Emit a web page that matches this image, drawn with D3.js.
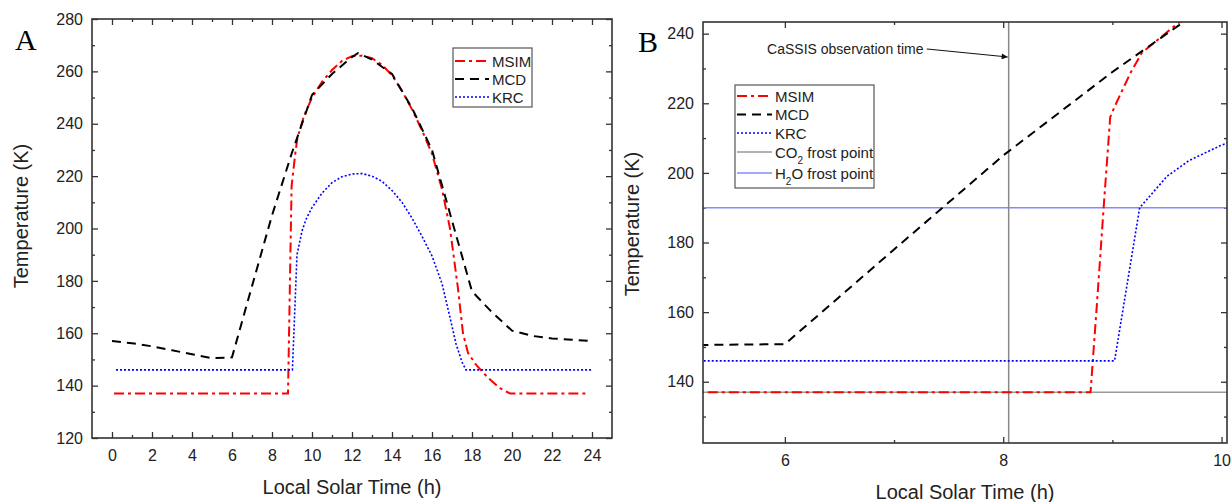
<!DOCTYPE html>
<html>
<head>
<meta charset="utf-8">
<script src="https://cdn.jsdelivr.net/npm/d3@7"></script>
<style>
  body { margin: 0; background: #fff; }
  svg { display: block; font-family: "Liberation Sans", Arial, sans-serif; }
</style>
</head>
<body>
<svg id="chart" width="1232" height="502"></svg>
<script>
// ---- data ----
const msimHours = [0.1, 2, 4, 6, 8, 8.8, 8.86, 8.92, 8.98, 9.02, 9.17, 9.27, 9.6, 10, 10.5, 11, 11.5, 12, 12.5, 13, 13.5, 14, 14.5, 15, 15.5, 16, 16.5, 16.9, 17.3, 17.55, 17.8, 18.2, 18.8, 19.4, 19.9, 22, 23.8];
const msimTemps = [137, 137, 137, 137, 137, 137, 163, 190, 216, 219, 229, 234.5, 243, 250, 256, 260.5, 264, 265.8, 266, 265, 262.5, 258.5, 252.5, 245.5, 237.5, 228.5, 215, 200, 177, 160, 152.5, 148, 143, 139, 137, 137, 137];

const mcdHours = [0, 1, 2, 3, 4, 5, 6, 7, 8, 9, 10, 11, 12, 12.3, 13, 14, 15, 16, 17, 18, 19, 20, 21, 22, 23, 24];
const mcdTemps = [157, 156.2, 155, 153.5, 152, 150.5, 150.8, 178, 205, 229, 251, 259, 265.5, 267, 264.5, 259, 246, 230, 203, 176, 168, 161, 159, 158, 157.5, 157];

const krcHours = [0.2, 4, 8, 9.02, 9.25, 9.5, 9.7, 10, 10.5, 11, 11.5, 12, 12.5, 13, 13.5, 14, 14.5, 15, 15.5, 16, 16.5, 16.9, 17.2, 17.5, 17.7, 20, 24];
const krcTemps = [146, 146, 146, 146, 190, 199, 203.5, 208, 213.5, 217.5, 219.8, 220.8, 221, 220, 218, 214.5, 210, 204, 197, 189.5, 179, 166, 156, 149, 146, 146, 146];

const co2Frost = 137;      // K
const h2oFrost = 190;      // K
const obsTime = 8.05;      // h, CaSSIS observation
const obsLabel = 'CaSSIS observation time';

const xTicksA = d3.range(0, 25, 2);
const xMinorA = d3.range(1, 25, 2);
const yTicksA = d3.range(120, 281, 20);
const yMinorA = d3.range(130, 280, 20);
const xTicksB = [6, 8, 10];
const xMinorB = [7, 9];
const yTicksB = [140, 160, 180, 200, 220, 240];
const yMinorB = [130, 150, 170, 190, 210, 230];

// ---- styles ----
const styles = {
  MSIM: { color: '#ff0000', width: 2, dash: '10,4,3,4' },
  MCD:  { color: '#000000', width: 2, dash: '9,6' },
  KRC:  { color: '#0000ff', width: 1.6, dash: '2,2' },
  CO2:  { color: '#9a9a9a', width: 1.5, dash: null },
  H2O:  { color: '#8888ff', width: 1.5, dash: null }
};

const zip = (xs, ys) => xs.map((h, i) => [h, ys[i]]);
const series = [
  { key: 'MSIM', pts: zip(msimHours, msimTemps) },
  { key: 'MCD',  pts: zip(mcdHours, mcdTemps) },
  { key: 'KRC',  pts: zip(krcHours, krcTemps) }
];

const svg = d3.select('#chart');
const ink = '#222';
const fmt = d3.format('d');

function drawPanel(o) {
  const x = d3.scaleLinear().domain(o.xDomain).range([o.left, o.right]);
  const y = d3.scaleLinear().domain(o.yDomain).range([o.bottom, o.top]);
  const g = svg.append('g').style('color', '#333');

  g.append('clipPath').attr('id', 'clip-' + o.id)
    .append('rect')
    .attr('x', o.left).attr('y', o.top)
    .attr('width', o.right - o.left).attr('height', o.bottom - o.top);

  // inward ticks on all four sides (Origin style)
  const ax = (axis, scale, vals, size, pad, labels, tx, ty) => {
    const a = axis(scale).tickValues(vals).tickSize(-size).tickPadding(pad);
    a.tickFormat(labels ? fmt : '');
    const s = g.append('g').attr('transform', `translate(${tx},${ty})`).call(a);
    s.select('.domain').remove();
    s.selectAll('line').attr('stroke-width', 1.3);
    s.selectAll('text').attr('fill', ink).style('font-size', '16px');
    return s;
  };
  ax(d3.axisBottom, x, o.xTicks, 6, o.xPad, true, 0, o.bottom);
  ax(d3.axisBottom, x, o.xMinor, 3, 0, false, 0, o.bottom);
  ax(d3.axisTop, x, o.xTicks, 6, 0, false, 0, o.top);
  ax(d3.axisTop, x, o.xMinor, 3, 0, false, 0, o.top);
  ax(d3.axisLeft, y, o.yTicks, 6, 9, true, o.left, 0);
  ax(d3.axisLeft, y, o.yMinor, 3, 0, false, o.left, 0);
  ax(d3.axisRight, y, o.yTicks, 6, 0, false, o.right, 0);
  ax(d3.axisRight, y, o.yMinor, 3, 0, false, o.right, 0);

  const plot = g.append('g').attr('clip-path', `url(#clip-${o.id})`);

  g.append('rect')
    .attr('x', o.left).attr('y', o.top)
    .attr('width', o.right - o.left).attr('height', o.bottom - o.top)
    .attr('fill', 'none').attr('stroke', '#333').attr('stroke-width', 1.6);

  // axis titles
  g.append('text')
    .attr('x', (o.left + o.right) / 2).attr('y', o.xTitleY)
    .attr('text-anchor', 'middle').attr('fill', ink)
    .style('font-size', '20px').text('Local Solar Time (h)');
  g.append('text')
    .attr('transform', `translate(${o.yTitleX},${o.yTitleCy}) rotate(-90)`)
    .attr('text-anchor', 'middle').attr('fill', ink)
    .style('font-size', '20px').text('Temperature (K)');

  // panel letter
  g.append('text')
    .attr('x', o.letterX).attr('y', o.letterY)
    .attr('fill', '#000')
    .style('font-family', '"Liberation Serif", "Times New Roman", serif')
    .style('font-size', '30px').text(o.letter);

  return { x, y, g, plot };
}

function drawSeries(p) {
  const line = d3.line().x(d => p.x(d[0])).y(d => p.y(d[1]));
  p.plot.selectAll('path.series')
    .data(series)
    .join('path')
    .attr('class', 'series')
    .attr('d', d => line(d.pts))
    .attr('fill', 'none')
    .attr('stroke', d => styles[d.key].color)
    .attr('stroke-width', d => styles[d.key].width)
    .attr('stroke-dasharray', d => styles[d.key].dash);
}

function drawLegend(g, items, o) {
  g.append('rect')
    .attr('x', o.x).attr('y', o.y).attr('width', o.w).attr('height', o.h)
    .attr('fill', '#fff').attr('stroke', '#555').attr('stroke-width', 1.2);
  items.forEach((it, i) => {
    const cy = o.rows[i];
    const st = styles[it.key];
    g.append('line')
      .attr('x1', o.x + 2).attr('x2', o.x + 2 + o.sample)
      .attr('y1', cy).attr('y2', cy)
      .attr('stroke', st.color).attr('stroke-width', st.width)
      .attr('stroke-dasharray', st.dash);
    const t = g.append('text')
      .attr('x', o.x + o.sample + 5).attr('y', cy + 5.5)
      .attr('fill', ink).style('font-size', '15px');
    it.parts.forEach(pt => {
      const ts = t.append('tspan').text(pt.t);
      if (pt.sub) ts.attr('baseline-shift', 'sub').style('font-size', '10px');
    });
  });
}

// ---- Panel A ----
const A = drawPanel({
  id: 'a', letter: 'A', letterX: 15, letterY: 50,
  left: 92, right: 612, top: 19, bottom: 438,
  xDomain: [-1, 25], yDomain: [120, 280],
  xTicks: xTicksA, xMinor: xMinorA, yTicks: yTicksA, yMinor: yMinorA,
  xPad: 12, xTitleY: 494, yTitleX: 28, yTitleCy: 216
});
drawSeries(A);
drawLegend(A.g, [
  { key: 'MSIM', parts: [{ t: 'MSIM' }] },
  { key: 'MCD', parts: [{ t: 'MCD' }] },
  { key: 'KRC', parts: [{ t: 'KRC' }] }
], { x: 453, y: 48, w: 79, h: 59, sample: 34, rows: [61, 79, 97] });

// ---- Panel B ----
const B = drawPanel({
  id: 'b', letter: 'B', letterX: 638, letterY: 52,
  left: 703, right: 1227, top: 22, bottom: 443,
  xDomain: [5.25, 10.05], yDomain: [122.4, 243.35],
  xTicks: xTicksB, xMinor: xMinorB, yTicks: yTicksB, yMinor: yMinorB,
  xPad: 12, xTitleY: 499, yTitleX: 639, yTitleCy: 224
});

// reference lines
B.plot.append('line')
  .attr('x1', B.x.range()[0]).attr('x2', B.x.range()[1])
  .attr('y1', B.y(co2Frost)).attr('y2', B.y(co2Frost))
  .attr('stroke', styles.CO2.color).attr('stroke-width', styles.CO2.width);
B.plot.append('line')
  .attr('x1', B.x.range()[0]).attr('x2', B.x.range()[1])
  .attr('y1', B.y(h2oFrost)).attr('y2', B.y(h2oFrost))
  .attr('stroke', styles.H2O.color).attr('stroke-width', styles.H2O.width);
B.plot.append('line')
  .attr('x1', B.x(obsTime)).attr('x2', B.x(obsTime))
  .attr('y1', B.y.range()[0]).attr('y2', B.y.range()[1])
  .attr('stroke', '#888').attr('stroke-width', 1.5);

drawSeries(B);

// annotation
svg.append('defs').append('marker')
  .attr('id', 'arrow').attr('viewBox', '0 -5 10 10')
  .attr('refX', 10).attr('refY', 0)
  .attr('markerWidth', 9).attr('markerHeight', 6)
  .attr('markerUnits', 'userSpaceOnUse')
  .attr('orient', 'auto')
  .append('path').attr('d', 'M0,-5L10,0L0,5Z').attr('fill', '#111');

B.g.append('text')
  .attr('x', B.x(7.27)).attr('y', B.y(234.2))
  .attr('text-anchor', 'end').attr('fill', ink)
  .style('font-size', '14px').text(obsLabel);
B.g.append('line')
  .attr('x1', B.x(7.3)).attr('y1', B.y(235.6))
  .attr('x2', B.x(obsTime) - 1).attr('y2', B.y(233.3))
  .attr('stroke', '#111').attr('stroke-width', 1)
  .attr('marker-end', 'url(#arrow)');

drawLegend(B.g, [
  { key: 'MSIM', parts: [{ t: 'MSIM' }] },
  { key: 'MCD', parts: [{ t: 'MCD' }] },
  { key: 'KRC', parts: [{ t: 'KRC' }] },
  { key: 'CO2', parts: [{ t: 'CO' }, { t: '2', sub: true }, { t: ' frost point' }] },
  { key: 'H2O', parts: [{ t: 'H' }, { t: '2', sub: true }, { t: 'O frost point' }] }
], { x: 735, y: 85, w: 139, h: 103, sample: 35, rows: [96, 114.5, 133, 152, 173] });
</script>
</body>
</html>
